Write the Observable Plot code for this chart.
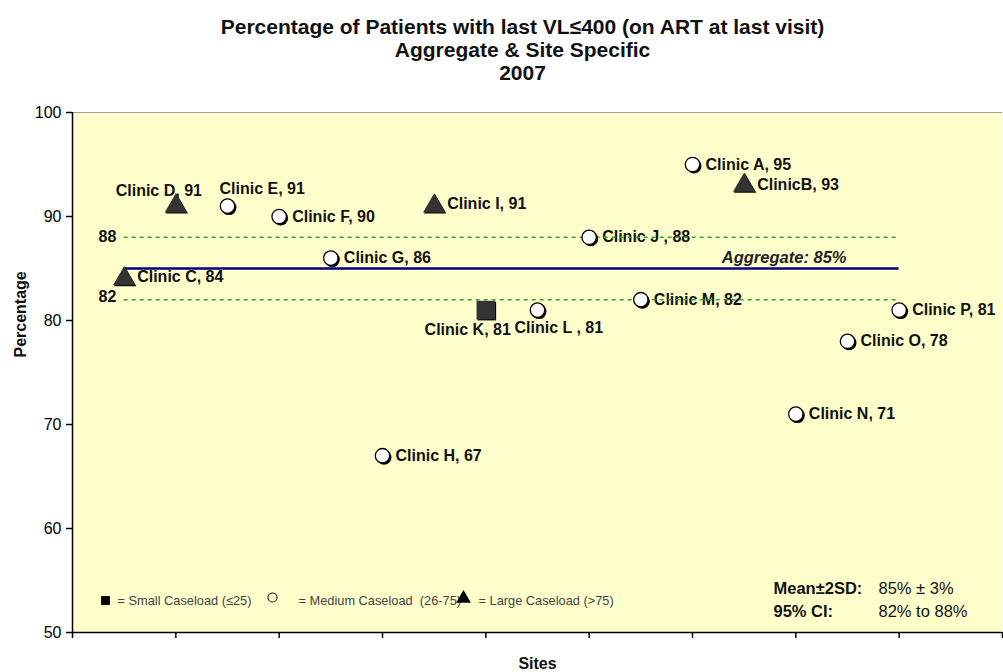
<!DOCTYPE html>
<html><head><meta charset="utf-8">
<script src="https://cdn.jsdelivr.net/npm/d3@7"></script>
<script src="https://cdn.jsdelivr.net/npm/@observablehq/plot@0.6"></script>
<style>body{margin:0;background:#fff;} svg{display:block;}</style>
</head><body><div id="chart"></div>
<script>
// ---- data ----
const clinics   = ["Clinic A","ClinicB","Clinic C","Clinic D","Clinic E","Clinic F","Clinic G","Clinic H","Clinic I","Clinic J ","Clinic K","Clinic L ","Clinic M","Clinic N","Clinic O","Clinic P"];
const sitePos   = [6, 6.5, 0.5, 1, 1.5, 2, 2.5, 3, 3.5, 5, 4, 4.5, 5.5, 7, 7.5, 8];
const percent   = [95, 93, 84, 91, 91, 90, 86, 67, 91, 88, 81, 81, 82, 71, 78, 81];
const caseload  = ["medium","large","large","large","medium","medium","medium","medium","large","medium","small","medium","medium","medium","medium","medium"];
const aggregate = 85;
const ciLow = 82, ciHigh = 88;
const yTicks = [50, 60, 70, 80, 90, 100];
const xTicks = [0, 1, 2, 3, 4, 5, 6, 7, 8, 9];
const titleLines = ["Percentage of Patients with last VL≤400 (on ART at last visit)", "Aggregate & Site Specific", "2007"];
const legendLabels = ["= Small Caseload (≤25)", "= Medium Caseload  (26-75)", "= Large Caseload (>75)"];
const statNames = ["Mean±2SD:", "95% CI:"];
const statValues = ["85% ± 3%", "82% to 88%"];

const rows = clinics.map((c, i) => ({name: c, x: sitePos[i], y: percent[i], type: caseload[i], label: `${c}, ${percent[i]}`}));

// ---- label placement (styling) ----
const special = {
  "Clinic D": {textAnchor: "middle", dx: -17, dy: -15},
  "Clinic E": {textAnchor: "start", dx: -8, dy: -17},
  "Clinic K": {textAnchor: "end", dx: 25, dy: 20},
  "Clinic L ": {textAnchor: "start", dx: -23, dy: 18},
  "Clinic C": {textAnchor: "start", dx: 13, dy: -2},
  "Clinic I": {textAnchor: "start", dx: 13, dy: -2}
};
const font = "'Liberation Sans', Arial, sans-serif";
const labelStyle = {x: "x", y: "y", text: "label", fontSize: 16, fontWeight: "bold", fill: "#111"};
const ann = {text: d => d, lineAnchor: "middle"};

const labelMarks = [
  Plot.text(rows.filter(d => !special[d.name]), {...labelStyle, textAnchor: "start", dx: 13}),
  ...Object.entries(special).map(([n, o]) => Plot.text(rows.filter(d => d.name === n), {...labelStyle, ...o}))
];

const chart = Plot.plot({
  width: 1003, height: 672,
  marginTop: 112, marginLeft: 72, marginRight: 1, marginBottom: 40,
  style: {fontFamily: font, fontSize: "16px", color: "#000", background: "transparent", overflow: "visible"},
  x: {domain: [0, 9], axis: null},
  y: {domain: [50, 100], axis: null},
  marks: [
    Plot.frame({fill: "#FFFFCC", stroke: null}),
    Plot.ruleY([100], {stroke: "#A0A0A0", strokeWidth: 1}),
    // axes
    Plot.axisY({ticks: yTicks, label: null, tickSize: 6, tickPadding: 5, fontSize: 16, stroke: "#000", strokeWidth: 1.5}),
    Plot.axisX({ticks: xTicks, label: null, tickSize: 6, tickFormat: () => "", stroke: "#000", strokeWidth: 1.5}),
    Plot.ruleX([0], {stroke: "#000", strokeWidth: 1.5}),
    Plot.ruleY([50], {stroke: "#000", strokeWidth: 1.5}),
    // aggregate line
    Plot.ruleY([aggregate], {x1: 0.5, x2: 8, stroke: "#000080", strokeWidth: 2.5}),
    Plot.text([`Aggregate: ${aggregate}%`], {...ann, y: [aggregate], frameAnchor: "right", textAnchor: "end", dx: -156, dy: -11, fontSize: 16.5, fontWeight: "bold", fontStyle: "italic", fill: "#222"}),
    // labels
    ...labelMarks,
    // CI dashed lines
    Plot.ruleY([ciLow, ciHigh], {x1: 0.5, x2: 8, stroke: "#2EA82E", strokeWidth: 1.6, strokeDasharray: "4,4"}),
    Plot.text([ciHigh], {y: d => d, text: d => String(d), frameAnchor: "left", lineAnchor: "middle", dx: 26, fontSize: 16, fontWeight: "bold", fill: "#111"}),
    Plot.text([ciLow], {y: d => d, text: d => String(d), frameAnchor: "left", lineAnchor: "middle", dx: 26, dy: -3, fontSize: 16, fontWeight: "bold", fill: "#111"}),
    // markers
    Plot.dot(rows.filter(d => d.type === "medium"), {x: "x", y: "y", r: 7.5, fill: "#000", dx: 1.5, dy: 1.5}),
    Plot.dot(rows.filter(d => d.type === "medium"), {x: "x", y: "y", r: 7.2, fill: "#fff", stroke: "#000", strokeWidth: 1.3}),
    Plot.dot(rows.filter(d => d.type === "large"), {x: "x", y: "y", symbol: "triangle", r: 8.3, fill: "#000", dx: 1, dy: 1}),
    Plot.dot(rows.filter(d => d.type === "large"), {x: "x", y: "y", symbol: "triangle", r: 8.3, fill: "#333"}),
    Plot.dot(rows.filter(d => d.type === "small"), {x: "x", y: "y", symbol: "square", r: 10.5, fill: "#000", dx: 1, dy: 1}),
    Plot.dot(rows.filter(d => d.type === "small"), {x: "x", y: "y", symbol: "square", r: 10.5, fill: "#333"}),
    // legend (inside plot)
    Plot.dot([0], {frameAnchor: "bottom-left", dx: 33, dy: -32, symbol: "square", r: 5, fill: "#000"}),
    Plot.text([legendLabels[0]], {...ann, frameAnchor: "bottom-left", dx: 45, dy: -32, textAnchor: "start", fontSize: 12.8, fill: "#444"}),
    Plot.dot([0], {frameAnchor: "bottom-left", dx: 200, dy: -35, r: 4.5, fill: "none", stroke: "#222", strokeWidth: 1.2}),
    Plot.text([legendLabels[1]], {...ann, frameAnchor: "bottom-left", dx: 226, dy: -32, textAnchor: "start", fontSize: 12.8, fill: "#444"}),
    Plot.dot([0], {frameAnchor: "bottom-left", dx: 391, dy: -34, symbol: "triangle", r: 5.5, fill: "#000"}),
    Plot.text([legendLabels[2]], {...ann, frameAnchor: "bottom-left", dx: 406, dy: -32, textAnchor: "start", fontSize: 12.8, fill: "#444"}),
    // stats
    ...statNames.map((s, i) => Plot.text([s], {...ann, frameAnchor: "bottom-right", dx: -229, dy: -44 + 23 * i, textAnchor: "start", fontSize: 16.5, fontWeight: "bold", fill: "#111"})),
    ...statValues.map((s, i) => Plot.text([s], {...ann, frameAnchor: "bottom-right", dx: -124, dy: -44 + 23 * i, textAnchor: "start", fontSize: 16.5, fill: "#111"})),
    // titles & axis labels
    ...titleLines.map((t, i) => Plot.text([t], {...ann, frameAnchor: "top", dx: -15, dy: -85 + 23 * i, fontSize: 21, fontWeight: "bold", fill: "#111"})),
    Plot.text(["Sites"], {...ann, frameAnchor: "bottom", dy: 31, fontSize: 16, fontWeight: "bold", fill: "#111"}),
    Plot.text(["Percentage"], {...ann, frameAnchor: "left", dx: -52, dy: -15, rotate: -90, fontSize: 16, fontWeight: "bold", fill: "#111"})
  ]
});
document.getElementById("chart").append(chart);
</script>
</body></html>
